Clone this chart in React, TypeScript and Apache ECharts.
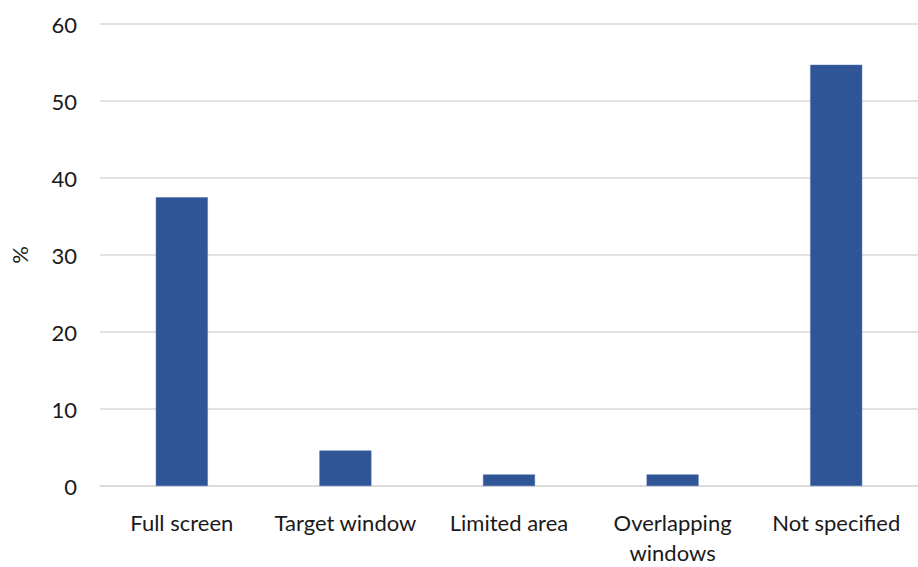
import React, { useEffect, useRef } from "react";
import * as echarts from "echarts";

const categories = ["Full screen", "Target window", "Limited area", "Overlapping\nwindows", "Not specified"];
const values = [37.5, 4.6, 1.5, 1.5, 54.7];
const yTicks = { min: 0, max: 60, interval: 10 };
const yName = "%";

export default function App() {
  const ref = useRef<HTMLDivElement>(null);
  useEffect(() => {
    document.body.style.margin = "0";
    const chart = echarts.init(ref.current!, null, { renderer: "svg" });
    const font = "Lato, 'Open Sans', sans-serif";
    chart.setOption({
      animation: false,
      backgroundColor: "#ffffff",
      grid: { left: 93, top: 24, width: 835, height: 470, containLabel: false },
      xAxis: {
        type: "category",
        data: categories,
        axisLine: { show: true, lineStyle: { color: "#D9D9D9", width: 1.5 } },
        axisTick: { show: false },
        axisLabel: { color: "#1a1a1a", fontSize: 22, fontFamily: font, margin: 21, lineHeight: 30, interval: 0 },
      },
      yAxis: {
        type: "value",
        min: yTicks.min,
        max: yTicks.max,
        interval: yTicks.interval,
        name: yName,
        nameLocation: "middle",
        nameRotate: 90,
        nameGap: 70,
        nameTextStyle: { color: "#1a1a1a", fontSize: 22, fontFamily: font },
        axisLine: { show: false },
        axisTick: { show: false },
        axisLabel: { color: "#1a1a1a", fontSize: 22, fontFamily: font, margin: 23 },
        splitLine: { lineStyle: { color: "#D9D9D9", width: 1.5 } },
      },
      series: [
        {
          type: "bar",
          data: values,
          barWidth: 52,
          itemStyle: { color: "#2F5597", borderColor: "#4A6FAE", borderWidth: 0.5 },
        },
      ],
    });
    return () => chart.dispose();
  }, []);
  return <div ref={ref} style={{ position: "absolute", left: 0, top: 0, width: 918, height: 567 }} />;
}
